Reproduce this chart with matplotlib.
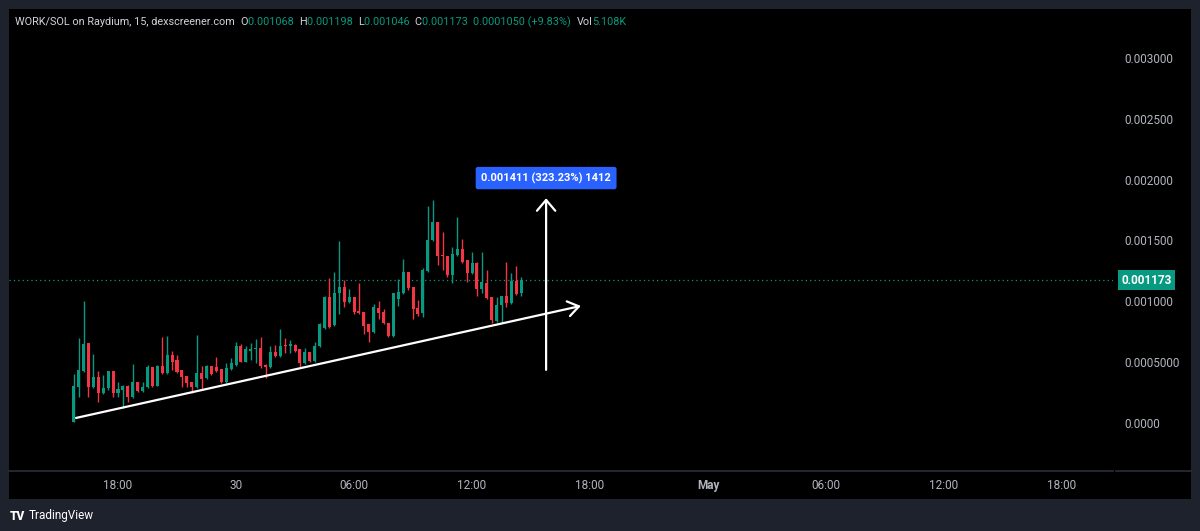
import pandas as pd
import matplotlib
matplotlib.use("Agg")
import matplotlib.pyplot as plt
from matplotlib.patches import Rectangle
from matplotlib.lines import Line2D
import matplotlib.dates as mdates

plt.rcParams['font.family'] = ['Roboto', 'DejaVu Sans']

# 15 minute candles, WORK/SOL
start_time = "2024-04-29 15:45"
opens = [0.000010, 0.000295, 0.000426, 0.000656, 0.000295, 0.000377, 0.000246, 0.000287, 0.000426, 0.000246,
         0.000270, 0.000303, 0.000213, 0.000336, 0.000262, 0.000295, 0.000459, 0.000303, 0.000467, 0.000410,
         0.000557, 0.000516, 0.000434, 0.000385, 0.000336, 0.000295, 0.000410, 0.000369, 0.000467, 0.000459,
         0.000443, 0.000336, 0.000443, 0.000475, 0.000631, 0.000500, 0.000590, 0.000607, 0.000615, 0.000475,
         0.000459, 0.000582, 0.000549, 0.000639, 0.000631, 0.000639, 0.000607, 0.000492, 0.000582, 0.000508,
         0.000631, 0.000779, 0.001033, 0.000803, 0.001066, 0.001115, 0.000992, 0.001033, 0.000918, 0.000910,
         0.000811, 0.000746, 0.000943, 0.000910, 0.000820, 0.000713, 0.001016, 0.001066, 0.001238, 0.001115,
         0.000943, 0.000902, 0.001246, 0.001500, 0.001648, 0.001377, 0.001369, 0.001213, 0.001377, 0.001434,
         0.001336, 0.001230, 0.001311, 0.001098, 0.001148, 0.001033, 0.000836, 0.000967, 0.001041, 0.000984,
         0.001164, 0.001068]
highs = [0.000402, 0.000697, 0.001000, 0.000660, 0.000566, 0.000426, 0.000393, 0.000430, 0.000430, 0.000336,
         0.000311, 0.000308, 0.000484, 0.000340, 0.000336, 0.000475, 0.000463, 0.000475, 0.000705, 0.000713,
         0.000590, 0.000557, 0.000438, 0.000390, 0.000340, 0.000721, 0.000467, 0.000475, 0.000470, 0.000541,
         0.000447, 0.000492, 0.000533, 0.000664, 0.000648, 0.000631, 0.000656, 0.000689, 0.000705, 0.000484,
         0.000631, 0.000639, 0.000770, 0.000697, 0.000680, 0.000648, 0.000611, 0.000615, 0.000586, 0.000664,
         0.000820, 0.001041, 0.001189, 0.001238, 0.001492, 0.001172, 0.001098, 0.001037, 0.001148, 0.000914,
         0.000815, 0.000975, 0.001000, 0.000934, 0.000824, 0.001070, 0.001180, 0.001344, 0.001242, 0.001119,
         0.001008, 0.001270, 0.001787, 0.001836, 0.001656, 0.001566, 0.001373, 0.001443, 0.001689, 0.001516,
         0.001340, 0.001402, 0.001320, 0.001402, 0.001254, 0.001037, 0.001033, 0.001045, 0.001320, 0.001230,
         0.001287, 0.001198]
lows = [0.000005, 0.000213, 0.000420, 0.000213, 0.000287, 0.000172, 0.000240, 0.000270, 0.000213, 0.000213,
        0.000123, 0.000172, 0.000205, 0.000254, 0.000258, 0.000290, 0.000295, 0.000300, 0.000402, 0.000405,
        0.000434, 0.000410, 0.000295, 0.000295, 0.000246, 0.000290, 0.000279, 0.000365, 0.000395, 0.000420,
        0.000328, 0.000332, 0.000434, 0.000467, 0.000497, 0.000497, 0.000516, 0.000492, 0.000451, 0.000369,
        0.000455, 0.000541, 0.000545, 0.000574, 0.000574, 0.000582, 0.000459, 0.000488, 0.000500, 0.000504,
        0.000627, 0.000775, 0.000783, 0.000799, 0.000893, 0.000951, 0.000988, 0.000893, 0.000898, 0.000730,
        0.000664, 0.000742, 0.000852, 0.000815, 0.000709, 0.000709, 0.000959, 0.001062, 0.001090, 0.000852,
        0.000877, 0.000869, 0.001242, 0.001496, 0.001295, 0.001254, 0.001197, 0.001148, 0.001373, 0.001316,
        0.001156, 0.001226, 0.001041, 0.001066, 0.001021, 0.000820, 0.000832, 0.000820, 0.000951, 0.000980,
        0.001053, 0.001046]
closes = [0.000303, 0.000434, 0.000648, 0.000295, 0.000377, 0.000246, 0.000287, 0.000426, 0.000246, 0.000279,
          0.000303, 0.000213, 0.000336, 0.000262, 0.000295, 0.000459, 0.000303, 0.000467, 0.000410, 0.000557,
          0.000500, 0.000418, 0.000377, 0.000328, 0.000295, 0.000410, 0.000361, 0.000467, 0.000402, 0.000426,
          0.000336, 0.000451, 0.000492, 0.000631, 0.000500, 0.000607, 0.000607, 0.000615, 0.000467, 0.000459,
          0.000582, 0.000549, 0.000631, 0.000631, 0.000648, 0.000590, 0.000492, 0.000582, 0.000508, 0.000631,
          0.000811, 0.001033, 0.000787, 0.001066, 0.001115, 0.000992, 0.001033, 0.000910, 0.000902, 0.000795,
          0.000746, 0.000951, 0.000902, 0.000820, 0.000713, 0.001066, 0.001074, 0.001238, 0.001107, 0.000934,
          0.000893, 0.001254, 0.001508, 0.001648, 0.001369, 0.001369, 0.001213, 0.001385, 0.001434, 0.001320,
          0.001230, 0.001311, 0.001098, 0.001156, 0.001025, 0.000844, 0.000967, 0.001041, 0.000984, 0.001164,
          0.001057, 0.001173]

price_ticks = [0.0, 0.0005, 0.001, 0.0015, 0.002, 0.0025, 0.003]
price_labels = ["0.0000", "0.0005000", "0.001000", "0.001500", "0.002000", "0.002500", "0.003000"]
time_ticks = ["2024-04-29 18:00", "2024-04-30 00:00", "2024-04-30 06:00", "2024-04-30 12:00",
              "2024-04-30 18:00", "2024-05-01 00:00", "2024-05-01 06:00", "2024-05-01 12:00",
              "2024-05-01 18:00"]
time_labels = ["18:00", "30", "06:00", "12:00", "18:00", "May", "06:00", "12:00", "18:00"]

# drawings on the chart
trend_times = ["2024-04-29 15:52", "2024-04-30 17:32"]
trend_prices = [0.0000411, 0.000962]
measure_time = "2024-04-30 15:46"
measure_prices = [0.0004365, 0.0018475]
measure_label = "0.001411 (323.23%) 1412"

header_title = "WORK/SOL on Raydium, 15, dexscreener.com"
header_ohlc = [("O", "0.001068"), ("H", "0.001198"), ("L", "0.001046"), ("C", "0.001173")]
header_change = "0.0001050 (+9.83%)"
header_vol = "5.108K"

UP = "#089981"
DOWN = "#f23645"
TXT = "#b2b5be"
BG = "#1e222d"
GRID = "#2a2e39"

W, H = 1200, 531
fig = plt.figure(figsize=(W / 100, H / 100), dpi=100, facecolor=BG)


def fx(px):
    return px / W


def fy(py):
    return 1 - py / H


# black chart panel (behind the axes)
fig.patches.append(Rectangle((fx(9), fy(499)), fx(1191 - 9), (499 - 9) / H,
                             transform=fig.transFigure, facecolor="black", edgecolor="none", zorder=-5))

ax = fig.add_axes([fx(9), fy(471), fx(1113 - 9), (471 - 9) / H])
ax.set_facecolor("black")
ax.set_zorder(2)
for s in ax.spines.values():
    s.set_visible(False)

fig.lines.append(Line2D([fx(9), fx(1113)], [fy(471), fy(471)], transform=fig.transFigure,
                        color=GRID, lw=1.2, zorder=3))
fig.lines.append(Line2D([fx(1116), fx(1191)], [fy(471), fy(471)], transform=fig.transFigure,
                        color=GRID, lw=1.2, zorder=3))

times = pd.date_range(start_time, periods=len(opens), freq="15min")
xs = mdates.date2num(times.to_pydatetime())
body_w = 0.153 / 24

for x, o, h, l, c in zip(xs, opens, highs, lows, closes):
    col = UP if c >= o else DOWN
    ax.vlines(x, l, h, color=col, lw=1, zorder=2)
    lo = min(o, c)
    ht = max(abs(c - o), 0.000004)
    ax.add_patch(Rectangle((x - body_w / 2, lo), body_w, ht, facecolor=col, edgecolor="none", zorder=3))

# last price line and label
last = closes[-1]
ax.axhline(last, color=UP, lw=0.9, ls=(0, (1, 2.5)), zorder=1)
ax.annotate(f"{last:.6f}", xy=(1, last), xycoords=("axes fraction", "data"),
            xytext=(6, 0), textcoords="offset points", ha="left", va="center",
            fontsize=8.5, fontweight="bold", color="white", annotation_clip=False,
            bbox=dict(boxstyle="square,pad=0.3", facecolor=UP, edgecolor="none"))

# trend line with arrow
tt = mdates.date2num(pd.to_datetime(trend_times).to_pydatetime())
ax.annotate("", xy=(tt[1], trend_prices[1]), xytext=(tt[0], trend_prices[0]),
            arrowprops=dict(arrowstyle="->,head_length=0.65,head_width=0.45", color="white",
                            lw=1.6, mutation_scale=12, shrinkA=0, shrinkB=0), zorder=5)

# price range measurement
mt = mdates.date2num(pd.Timestamp(measure_time).to_pydatetime())
ax.annotate("", xy=(mt, measure_prices[1]), xytext=(mt, measure_prices[0]),
            arrowprops=dict(arrowstyle="->,head_length=0.65,head_width=0.55", color="white",
                            lw=1.6, mutation_scale=12, shrinkA=0, shrinkB=0), zorder=5)
ax.annotate(measure_label, xy=(mt, measure_prices[1]), xytext=(0, 14.5), textcoords="offset points",
            ha="center", va="center", fontsize=8, fontweight="bold", color="white",
            bbox=dict(boxstyle="round,pad=0.5,rounding_size=0.2", facecolor="#2962ff", edgecolor="none"),
            zorder=6)

x0 = pd.Timestamp("2024-04-29 00:00")
ax.set_xlim(mdates.date2num((x0 + pd.Timedelta(hours=12.458)).to_pydatetime()),
            mdates.date2num((x0 + pd.Timedelta(hours=68.59)).to_pydatetime()))
ax.set_ylim(-0.000395, 0.003403)

ax.yaxis.tick_right()
ax.set_yticks(price_ticks)
ax.set_yticklabels(price_labels)
ax.set_xticks(mdates.date2num(pd.to_datetime(time_ticks).to_pydatetime()))
ax.set_xticklabels(time_labels)
ax.tick_params(axis="y", length=0, pad=8, labelsize=8.5, labelcolor=TXT)
ax.tick_params(axis="x", length=0, pad=6, labelsize=8.5, labelcolor=TXT)
for lab in ax.get_xticklabels():
    if lab.get_text() == "May":
        lab.set_fontweight("bold")

# header line, drawn piece by piece
renderer = fig.canvas.get_renderer()
hx = fx(15)
hy = fy(22)
pieces = [(header_title + "  ", "#d1d4dc")]
for k, v in header_ohlc:
    pieces.append((k, "#d1d4dc"))
    pieces.append((v + "  ", UP))
pieces.append((header_change + "  ", UP))
pieces.append(("Vol", "#d1d4dc"))
pieces.append((header_vol, UP))
for s, col in pieces:
    t = fig.text(hx, hy, s, color=col, fontsize=7.8, ha="left", va="center", zorder=4)
    hx += t.get_window_extent(renderer).width / W

# logo
fig.text(fx(10), fy(516), "TV", color="white", fontsize=8.5, fontweight="heavy", ha="left", va="center")
fig.text(fx(29), fy(516), "TradingView", color="white", fontsize=8.5, ha="left", va="center")

fig.savefig("out.png", dpi=100, facecolor=BG)
